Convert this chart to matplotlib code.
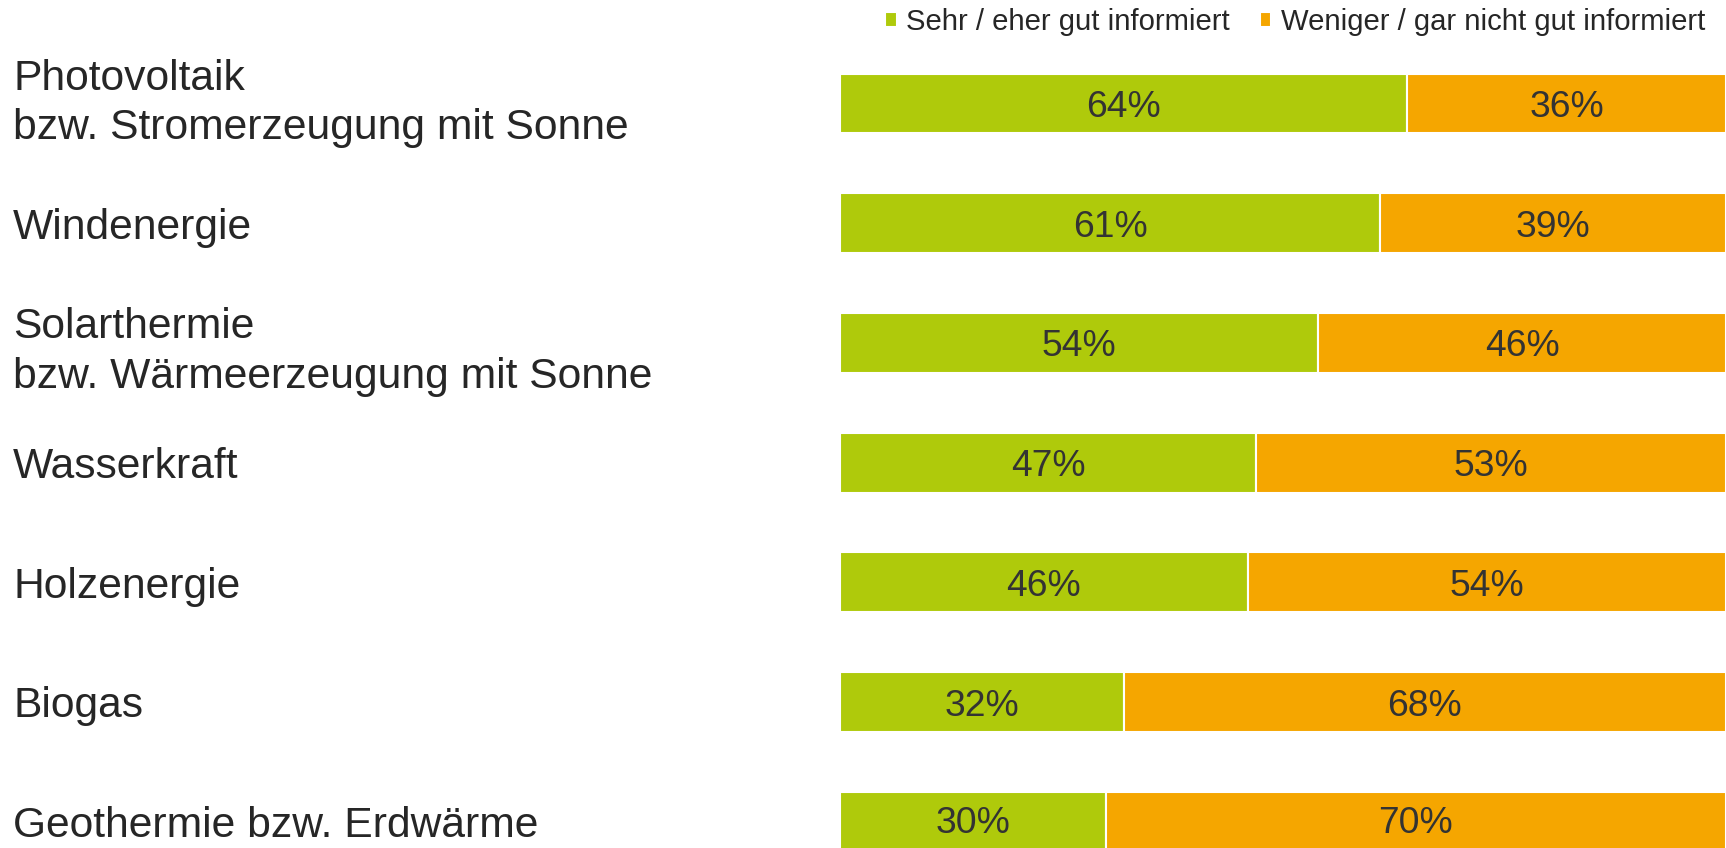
import matplotlib.pyplot as plt

plt.rcParams['font.family'] = ['Liberation Sans', 'DejaVu Sans']

categories = ['Photovoltaik\nbzw. Stromerzeugung mit Sonne', 'Windenergie',
              'Solarthermie\nbzw. Wärmeerzeugung mit Sonne', 'Wasserkraft',
              'Holzenergie', 'Biogas', 'Geothermie bzw. Erdwärme']
gut = [64, 61, 54, 47, 46, 32, 30]
weniger = [36, 39, 46, 53, 54, 68, 70]
series_names = ['Sehr / eher gut informiert', 'Weniger / gar nicht gut informiert']
green = '#AFCA0B'
orange = '#F5A600'

W, H = 1726, 848
fig = plt.figure(figsize=(W / 100, H / 100), dpi=100)
ax = fig.add_axes([840 / W, 0, 886 / W, 1])

y = list(range(len(categories)))
b1 = ax.barh(y, gut, height=0.5, color=green, edgecolor='white', linewidth=1.5, label=series_names[0])
b2 = ax.barh(y, weniger, left=gut, height=0.5, color=orange, edgecolor='white', linewidth=1.5, label=series_names[1])

for bars, vals in ((b1, gut), (b2, weniger)):
    txts = ax.bar_label(bars, labels=[f'{v}%' for v in vals], label_type='center',
                        fontsize=26.8, color='#333333')
    for t in txts:
        t.set_verticalalignment('center_baseline')

ax.set_xlim(0, 100)
# first bar centre ~103px from top, spacing ~119.7px
ax.set_ylim((H - 103.5) / 119.7, -103.5 / 119.7)

ax.set_yticks(y)
ax.set_yticklabels(categories, fontsize=30.7, color='#262626', linespacing=1.32)
for lab in ax.get_yticklabels():
    lab.set_horizontalalignment('left')
ax.get_yticklabels()[0].set_verticalalignment('center')  # sits a bit higher in the original
ax.tick_params(axis='y', length=0, pad=(840 - 13) * 0.72)
ax.tick_params(axis='x', length=0, labelbottom=False)
for s in ax.spines.values():
    s.set_visible(False)

fig.legend(handles=[b1, b2], labels=series_names, loc='center right',
           bbox_to_anchor=(1705 / W, 1 - 22 / H), ncol=2, frameon=False,
           fontsize=21.1, handlelength=0.38, handleheight=0.38,
           handletextpad=0.34, columnspacing=1.0, borderpad=0, borderaxespad=0,
           labelcolor='#262626')

fig.savefig('out.png', dpi=100)
